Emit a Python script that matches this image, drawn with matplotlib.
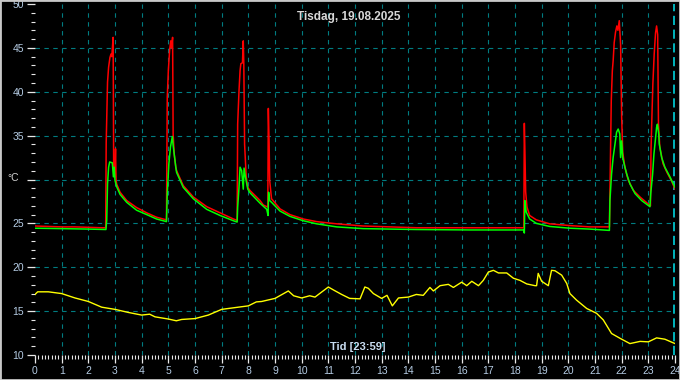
import matplotlib
matplotlib.use("Agg")
import matplotlib.pyplot as plt
from matplotlib.ticker import MultipleLocator, FuncFormatter
from matplotlib.patches import Rectangle

plt.rcParams['font.family'] = ['Liberation Sans', 'DejaVu Sans']

TITLE = "Tisdag, 19.08.2025"
XLABEL = "Tid [23:59]"
YLABEL = "°C"

# red sensor (hours, °C)
red_t = [0, 0.5, 1.0, 1.5, 2.0, 2.5, 2.65, 2.67, 2.72, 2.76, 2.81, 2.85, 2.88, 2.93, 2.95,
         2.99, 3.02, 3.04, 3.06, 3.19, 3.44, 3.81, 4.19, 4.56, 4.93,
         4.96, 5.0, 5.05, 5.09, 5.12, 5.16, 5.18, 5.22, 5.28, 5.31, 5.56, 5.94, 6.44, 6.94, 7.44, 7.58,
         7.6, 7.65, 7.69, 7.72, 7.78, 7.81, 7.83, 7.86, 7.92, 7.98, 8.06, 8.31, 8.44, 8.56, 8.73,
         8.75, 8.78, 8.8, 8.87, 9.19, 9.56, 10.06, 10.56, 11.31, 12.31, 13.31, 14.31, 16.31, 17.5, 18.33,
         18.35, 18.37, 18.4, 18.45, 18.55, 18.8, 19.3, 20.05, 20.8, 21.54,
         21.57, 21.61, 21.65, 21.68, 21.72, 21.77, 21.82, 21.86, 21.91, 21.96, 22.0, 22.04, 22.12,
         22.25, 22.44, 22.69, 23.0, 23.08,
         23.1, 23.14, 23.17, 23.22, 23.27, 23.31, 23.35, 23.38, 23.43, 23.55, 23.7, 23.86, 24.0]
red_v = [24.7, 24.65, 24.6, 24.6, 24.55, 24.5, 24.5, 34.2, 41.1, 42.8, 43.9, 44.3, 44.0, 46.2, 31.5,
         30.5, 33.5, 30.0, 29.5, 28.55, 27.6, 26.8, 26.2, 25.7, 25.4,
         39.4, 42.4, 44.8, 45.8, 45.0, 46.2, 35.2, 32.9, 31.4, 31.0, 29.3, 28.0, 26.9, 26.2, 25.5, 25.35,
         36.3, 40.1, 42.4, 43.2, 43.3, 45.8, 43.2, 34.0, 30.3, 29.1, 28.75, 28.0, 27.6, 27.1, 26.85,
         38.1, 34.1, 29.9, 27.8, 26.65, 26.0, 25.5, 25.2, 24.95, 24.7, 24.6, 24.5, 24.5, 24.5, 24.5,
         36.4, 33.5, 28.6, 26.85, 25.9, 25.4, 24.95, 24.75, 24.6, 24.6,
         30.6, 39.0, 42.4, 43.5, 45.6, 46.8, 47.5, 47.0, 48.1, 45.4, 37.1, 33.1, 31.4,
         29.9, 28.75, 28.0, 27.2, 27.0,
         33.3, 37.8, 40.9, 44.3, 46.7, 47.5, 46.5, 36.3, 33.7, 31.8, 30.8, 29.9, 28.9]

# green sensor (hours, °C)
green_t = [0, 1.0, 2.0, 2.66, 2.69, 2.72, 2.76, 2.8, 2.9, 2.94, 2.97, 3.0, 3.06, 3.19, 3.44, 3.81,
           4.19, 4.56, 4.93,
           4.96, 5.02, 5.08, 5.15, 5.18, 5.22, 5.28, 5.31, 5.56, 5.94, 6.44, 6.94, 7.44, 7.58,
           7.6, 7.65, 7.69, 7.75, 7.81, 7.84, 7.89, 7.98, 8.06, 8.44, 8.69, 8.74,
           8.76, 8.8, 8.87, 9.19, 9.56, 10.06, 10.56, 11.31, 12.31, 14.31, 16.31, 18.33,
           18.35, 18.37, 18.42, 18.55, 18.8, 19.3, 20.05, 20.8, 21.54,
           21.56, 21.62, 21.68, 21.75, 21.81, 21.87, 21.93, 21.96, 22.0, 22.04, 22.09, 22.19, 22.31,
           22.5, 22.75, 23.06,
           23.09, 23.16, 23.21, 23.26, 23.31, 23.34, 23.39, 23.41, 23.5, 23.62, 23.81, 24.0]
green_v = [24.45, 24.4, 24.35, 24.3, 25.4, 29.5, 31.4, 32.0, 31.9, 30.3, 31.4, 29.9, 29.2, 28.3, 27.4, 26.5,
           26.0, 25.5, 25.2,
           28.4, 31.8, 33.7, 34.9, 33.9, 32.9, 31.4, 30.8, 29.1, 27.8, 26.6, 25.9, 25.3, 25.15,
           26.85, 29.1, 31.4, 31.0, 28.9, 31.3, 30.3, 28.9, 28.5, 27.3, 26.6, 25.9,
           28.55, 27.6, 27.4, 26.4, 25.8, 25.3, 24.95, 24.6, 24.4, 24.3, 24.25, 24.25,
           23.9, 27.6, 26.3, 25.5, 25.0, 24.65, 24.45, 24.35, 24.2,
           27.6, 30.6, 32.5, 34.05, 35.4, 35.75, 35.2, 32.5, 34.4, 32.5, 31.8, 30.6, 29.5,
           28.4, 27.6, 26.9,
           28.4, 30.6, 32.9, 34.4, 35.95, 36.3, 35.2, 34.05, 32.5, 31.4, 30.3, 29.1]

# yellow sensor (hours, °C)
yellow_t = [0, 0.1, 0.5, 1.0, 1.5, 2.0, 2.5, 3.0, 3.5, 4.0, 4.3, 4.5, 5.0, 5.3, 5.5, 6.0, 6.5,
            7.0, 7.5, 8.0, 8.3, 8.5, 9.0, 9.5, 9.7, 10.0, 10.3, 10.5, 11.0, 11.2, 11.5, 11.8,
            12.19, 12.37, 12.5, 12.69, 13.0, 13.2, 13.4, 13.63, 14.0, 14.3, 14.56, 14.81, 14.94,
            15.19, 15.5, 15.69, 16.0, 16.19, 16.38, 16.63, 16.81, 17.0, 17.19, 17.38, 17.69,
            17.94, 18.19, 18.44, 18.75, 18.81, 18.87, 19.0, 19.25, 19.37, 19.5, 19.75, 19.94,
            20.06, 20.31, 20.69, 21.06, 21.31, 21.62, 21.94, 22.31, 22.69, 23.0, 23.31, 23.62, 24.0]
yellow_v = [16.9, 17.2, 17.2, 17.0, 16.5, 16.1, 15.45, 15.2, 14.85, 14.55, 14.65, 14.35, 14.1, 13.9,
            14.05, 14.15, 14.55, 15.2, 15.4, 15.6, 16.05, 16.1, 16.45, 17.3, 16.75, 16.5, 16.75,
            16.6, 17.75, 17.4, 16.9, 16.45, 16.4, 17.75, 17.6, 17.0, 16.45, 16.8, 15.6, 16.5,
            16.6, 16.9, 16.8, 17.7, 17.3, 17.9, 18.05, 17.7, 18.3, 17.9, 18.4, 17.9, 18.5,
            19.45, 19.65, 19.35, 19.35, 18.75, 18.5, 18.1, 17.9, 17.9, 19.3, 18.4, 17.9, 19.65,
            19.6, 19.1, 18.15, 17.0, 16.25, 15.3, 14.75, 14.0, 12.45, 11.9, 11.3, 11.55, 11.5,
            11.95, 11.8, 11.3]

label_col = "#b4cbe3"
grid_col = "#007c80"

fig = plt.figure(figsize=(6.8, 3.8), dpi=100, facecolor="black")
ax = fig.add_axes([35 / 680, 25 / 380, 640 / 680, 351 / 380])
ax.set_facecolor("black")

ax.set_xlim(0, 24)
ax.set_ylim(10, 50)

# grid
for h in range(1, 24):
    ax.axvline(h, color=grid_col, lw=0.8, dashes=(4, 4), zorder=1)
for y in range(15, 50, 5):
    ax.axhline(y, color=grid_col, lw=0.8, dashes=(4, 4), zorder=1)
ax.axvline(23.98, color="#00e5ee", lw=1.1, dashes=(6, 3), zorder=1)

ax.plot(yellow_t, yellow_v, color="#ffff00", lw=1.0, zorder=3)
ax.plot(red_t, red_v, color="#ff0000", lw=1.1, zorder=3)
ax.plot(green_t, green_v, color="#00ff00", lw=1.1, zorder=4)

for s in ax.spines.values():
    s.set_visible(False)

ax.xaxis.set_major_locator(MultipleLocator(1))
ax.xaxis.set_minor_locator(MultipleLocator(1 / 8))
ax.yaxis.set_major_locator(MultipleLocator(5))
ax.yaxis.set_minor_locator(MultipleLocator(1))
# the 30 label gives way to the unit label
ax.yaxis.set_major_formatter(FuncFormatter(lambda v, p: "" if v == 30 else f"{v:.0f}"))
ax.tick_params(which="major", length=6, width=0.9, color="#e8e8e8",
               labelcolor=label_col, labelsize=7.5, pad=2)
ax.tick_params(which="minor", length=3, width=0.8, color="#e8e8e8")

ax.text(0.49, 0.962, TITLE, transform=ax.transAxes, ha="center", va="center",
        color="#d8d8d8", fontsize=8.5, fontweight="bold")
ax.text(0.505, 0.022, XLABEL, transform=ax.transAxes, ha="center", va="center",
        color="#c8dcf0", fontsize=8, fontweight="bold")
fig.text(13 / 680, 1 - 178 / 380, YLABEL, ha="center", va="center",
         color="#d0d0d0", fontsize=7.5)

# window frame
fig.patches.append(Rectangle((0, 0), 1, 1, transform=fig.transFigure, fill=False,
                             edgecolor="#c8c8c8", lw=2))

fig.savefig("out.png", dpi=100, facecolor="black")
